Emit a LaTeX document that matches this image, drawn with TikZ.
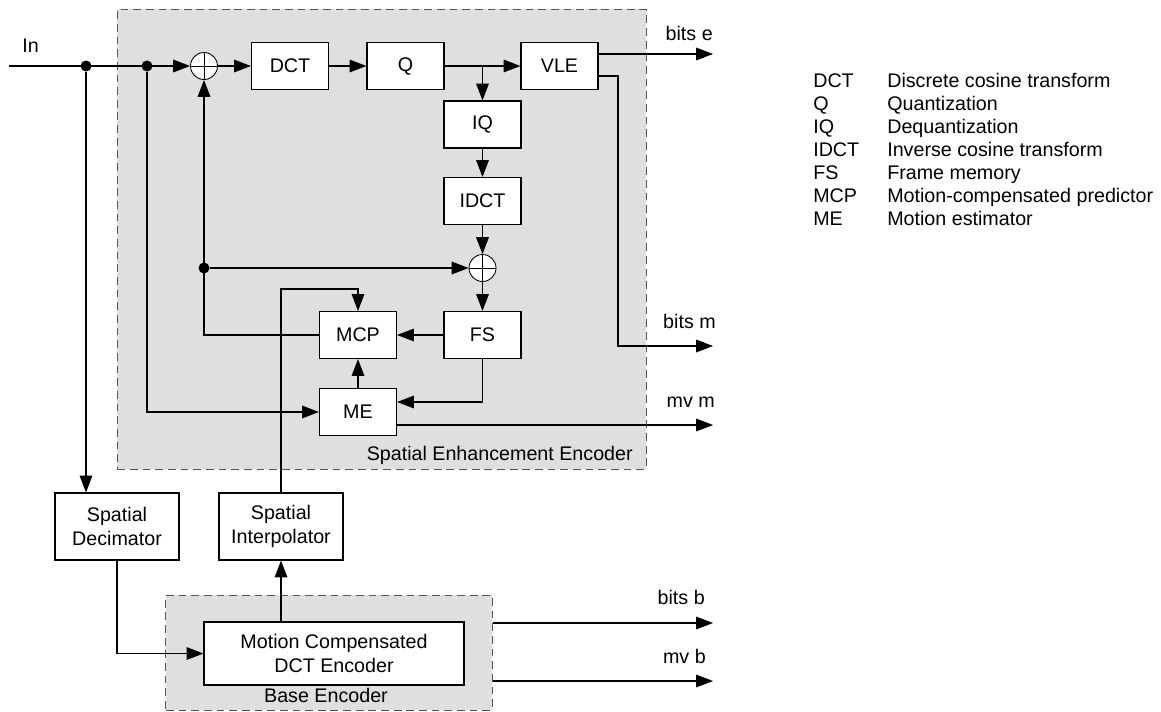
\documentclass[tikz,border=0pt]{standalone}
\usepackage{fontspec}
\setmainfont{Liberation Sans}
\usetikzlibrary{arrows.meta,positioning,calc}
\definecolor{regiongray}{HTML}{DFDFDF}
\definecolor{regionline}{HTML}{555555}

\begin{document}
\begin{tikzpicture}[x=0.025cm, y=-0.025cm,
  font=\fontsize{14}{17}\selectfont,
  box/.style={rectangle, draw, line width=0.8pt, fill=white, minimum width=1.925cm, minimum height=1.175cm, align=center, inner sep=0pt},
  wide/.style={box, minimum width=3.1cm, minimum height=1.675cm},
  region/.style={rectangle, draw=regionline, fill=regiongray, line width=0.7pt, dash pattern=on 5.5pt off 3.5pt, inner sep=0pt},
  sumnode/.style={circle, draw, fill=white, line width=0.6pt, minimum size=0.675cm, inner sep=0pt,
    path picture={\draw[line width=0.6pt] (path picture bounding box.north) -- (path picture bounding box.south)
      (path picture bounding box.west) -- (path picture bounding box.east);}},
  junc/.style={circle, fill, inner sep=0pt, minimum size=0.275cm},
  arr/.style={-{Triangle[length=12pt, width=9pt]}, line width=0.8pt},
  lbl/.style={anchor=base east, inner sep=0pt}
]
  \useasboundingbox (0,0) rectangle (1161,711);

  % encoder regions
  \node[region, minimum width=13.2125cm, minimum height=11.4875cm] (enh) at (381.75,239.25) {};
  \node[region, minimum width=8.15cm, minimum height=2.875cm] (base) at (329,652.5) {};

  % blocks
  \node[box] (dct) at (290,66) {DCT};
  \node[box] (q) at (405.5,66) {Q};
  \node[box] (vle) at (559.5,66) {VLE};
  \node[box] (iq) at (482.5,124.5) {IQ};
  \node[box] (idct) at (482.5,201) {IDCT};
  \node[box] (fs) at (482.5,335) {FS};
  \node[box] (mcp) at (358,335) {MCP};
  \node[box] (me) at (358,412) {ME};
  \node[wide] (dec) at (117,526.5) {Spatial\\Decimator};
  \node[wide] (interp) at (281,526.5) {Spatial\\Interpolator};
  \node[box, minimum width=6.5cm, minimum height=1.575cm] (enc) at (334,653.5) {Motion Compensated\\DCT Encoder};

  \node[sumnode] (sum1) at (204,66) {};
  \node[sumnode] (sum2) at (482.5,268) {};

  % junctions and bends
  \coordinate (in) at (9,66);
  \node[junc] (j1) at (86,66) {};
  \node[junc] (j2) at (147,66) {};
  \node[junc] (j3) at (sum1 |- sum2) {};
  \coordinate (qbr) at (iq |- q);
  \coordinate (vlem) at (618,76);
  \coordinate (ibend) at (281,289);
  \coordinate (fsme) at (482.5,402);

  % outputs
  \coordinate (bitse) at (713,54);
  \coordinate (bitsm) at (713,346);
  \coordinate (mvm) at (713,425);
  \coordinate (bitsb) at (713,623);
  \coordinate (mvb) at (713,681);

  % forward path
  \draw[arr] (in) -- (sum1.west);
  \draw[arr] (sum1) -- (dct);
  \draw[arr] (dct) -- (q);
  \draw[arr] (q) -- (vle);
  \draw[arr] (qbr) -- (iq);
  \draw[arr] (iq) -- (idct);
  \draw[arr] (idct) -- (sum2);
  \draw[arr] (sum2) -- (fs);
  \draw[arr] (vle.east |- bitse) -- (bitse);
  \draw[arr] (vle.east |- vlem) -- (vlem) |- (bitsm);

  % prediction loop
  \draw[arr] (fs) -- (mcp);
  \draw[arr] (mcp.west) -| (sum1.south);
  \draw[arr] (j3) -- (sum2);
  \draw[arr] (interp.north) -- (ibend) -| (mcp.north);
  \draw[arr] (me) -- (mcp);
  \draw[arr] (j2) |- (me.west);
  \draw[arr] (fs.south) -- (fsme) -- (me.east |- fsme);
  \draw[arr] (me.east |- mvm) -- (mvm);

  % base layer
  \draw[arr] (j1) -- (j1 |- dec.north);
  \draw[arr] (dec.south) |- (enc.west);
  \draw[arr] (interp |- enc.north) -- (interp.south);
  \draw[arr] (base.east |- bitsb) -- (bitsb);
  \draw[arr] (base.east |- mvb) -- (mvb);

  % labels
  \node[anchor=base west, inner sep=0pt] (inlbl) at (22,52) {In};
  \node[lbl] (bitselbl) at (713,40) {bits e};
  \node[lbl] (bitsmlbl) at (716,328) {bits m};
  \node[lbl] (mvmlbl) at (715,407) {mv m};
  \node[lbl] (bitsblbl) at (705,604) {bits b};
  \node[lbl] (mvblbl) at (706,663) {mv b};
  \node[lbl] (enhlbl) at (633,460) {Spatial Enhancement Encoder};
  \node[anchor=base, inner sep=0pt] (baselbl) at (326,702) {Base Encoder};

  % legend
  \foreach \abbr/\desc [count=\i] in {DCT/Discrete cosine transform, Q/Quantization, IQ/Dequantization,
      IDCT/Inverse cosine transform, FS/Frame memory, MCP/Motion-compensated predictor, ME/Motion estimator} {
    \node[anchor=base west, inner sep=0pt] (key\i) at (813,64+23*\i) {\abbr};
    \node[anchor=base west, inner sep=0pt] (desc\i) at (887,64+23*\i) {\desc};
  }
\end{tikzpicture}
\end{document}
